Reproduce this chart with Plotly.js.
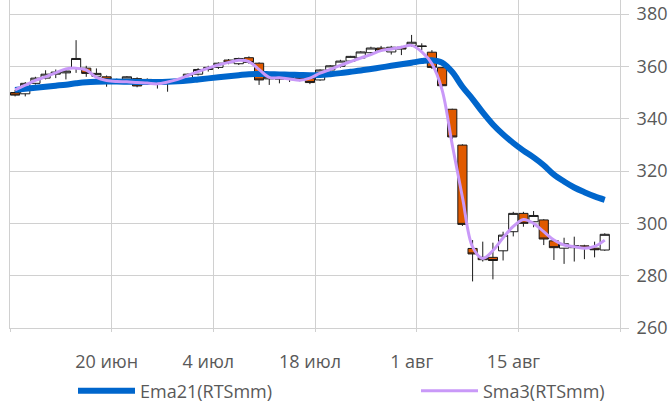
<!DOCTYPE html>
<html>
<head>
<meta charset="utf-8">
<script src="https://cdn.plot.ly/plotly-3.0.1.min.js"></script>
<style>html,body{margin:0;padding:0;background:#fff}#chart{width:671px;height:403px}</style>
</head>
<body>
<div id="chart"></div>
<script>
// Trading-day OHLC (RTSmm)
const openP  = [350,349.5,353.5,355.5,357,357.5,359.2,359.3,356.2,356,354.6,355.1,355.3,354.2,354.2,353.8,354.3,355,357,358.8,359.6,362.4,361,363.3,361.2,355.2,355.5,355.2,355.6,355.4,354.8,358.6,360,362,363.2,365.2,367,365.5,367.3,368,367.8,365.4,359.5,343.6,329.9,290.4,287,287,289.5,296.8,303.8,300.6,301.3,293.3,290.5,290.7,291.4,290.5,289.8];
const highP  = [351,354,356,358.5,358.8,359,370,360.2,359.2,356.5,355.3,356.3,355.8,355.4,354.5,354.8,355,357.2,359.3,360.2,361.5,362.8,363.3,363.8,361.5,357.3,356.3,356,356.3,355.8,358.8,360.5,362.5,364,365.8,367.5,367.8,367.8,367.8,372,368.8,366.2,359.8,343.8,330.2,293.6,293,292.6,296.8,304.4,304.4,304.7,301.6,293.6,294.5,294.9,291.8,293,296.2];
const lowP   = [348.5,348.5,353,355,355.5,355,357.5,356,355,352.2,353.8,354.5,352,353.5,351.5,350.3,353.5,354.5,356.5,358,359,360.8,360.5,361,352.9,352.9,353.5,354,354.3,353.2,354.5,358,359.5,361.5,363,364.8,365.5,364.5,364.3,367.5,366.2,359,352.2,332.2,299,277.8,285.4,278.6,285.8,295,298.7,298.5,291.7,286,284.5,285.4,286.3,287,289.5];
const closeP = [349,353.5,355.5,357,357.8,358.2,363,357.3,357.3,355,354.9,356,352.5,355,353.8,354.3,354.8,357,358.8,359.6,361.2,361.4,363,361.5,354.8,356,355.2,355.6,355.4,353.8,358.6,360.2,362,363.8,365.5,367,366.2,367.3,366.6,369.2,367.6,359.6,352.6,333,299.6,288.3,286.1,285.8,295.5,303.8,300,303,294,290.7,292.2,291.5,290.6,289.9,295.8];
// Indicators
const ema21 = [351,351.4,351.8,352.2,352.6,353,353.5,353.9,354.1,354.2,354.2,354.1,354,354,354,354.1,354.3,354.6,355,355.4,355.8,356.2,356.6,357,357.1,357,356.9,356.8,356.7,356.6,356.7,357,357.4,357.9,358.4,359,359.6,360.2,360.8,361.4,362,362.3,361.4,357.8,352.2,347.5,342.4,337.8,334,330.7,327.8,325.2,322.2,318.6,316,313.7,311.9,310.3,309];
const sma3  = [351,352.8,354.6,356,357.5,359,359.3,358.6,355.8,354.6,354.2,354.1,353.8,353.6,353.3,354,355,356.5,358,359.3,360.5,361.5,362.3,361.8,358.8,355.8,355.6,355.2,354.7,355.5,357.4,358.8,360.4,361.8,363.2,364.5,366,366.6,367.3,368,365.5,361,351,330,310,291,286.6,289.6,294.5,298.8,301.5,300,296.8,293.6,291.7,291.1,290.5,291.2,293.6];
const tickLabels = ['', '20 июн', '4 июл', '18 июл', '1 авг', '15 авг', ''];
const tickPos = [-0.5, 9.5, 19.5, 29.5, 39.5, 49.5, 59.5];

const idx = openP.map((_, i) => i);
const grey = '#595959';
const font = {family: '"Open Sans", "Noto Sans", sans-serif', size: 18, color: grey};

const traces = [
  {type: 'candlestick', x: idx, open: openP, high: highP, low: lowP, close: closeP,
   increasing: {line: {color: '#1a1a1a', width: 1}, fillcolor: '#ffffff'},
   decreasing: {line: {color: '#1a1a1a', width: 1}, fillcolor: '#e05a00'},
   whiskerwidth: 0, showlegend: false, hoverinfo: 'skip'},
  {type: 'scatter', mode: 'lines', x: idx, y: ema21, name: 'Ema21(RTSmm)', legend: 'legend',
   line: {color: '#0066cc', width: 6, shape: 'spline'}, hoverinfo: 'skip'},
  {type: 'scatter', mode: 'lines', x: idx, y: sma3, name: 'Sma3(RTSmm)', legend: 'legend2',
   line: {color: '#c999f8', width: 3, shape: 'spline'}, hoverinfo: 'skip'}
];

const legendBase = {orientation: 'h', xref: 'container', yref: 'container', y: 1 - 391/403,
  xanchor: 'left', yanchor: 'middle', font: font, itemwidth: 57, bgcolor: 'rgba(0,0,0,0)'};

const layout = {
  width: 671, height: 403,
  margin: {l: 10, r: 51, t: 0, b: 75},
  paper_bgcolor: '#ffffff', plot_bgcolor: '#ffffff',
  font: font,
  boxgap: 0.05,
  boxgroupgap: 0.05,
  xaxis: {range: [-0.5, 59.5], tickmode: 'array', tickvals: tickPos, ticktext: tickLabels,
          showgrid: true, gridcolor: '#d0d0d0', gridwidth: 1, zeroline: false,
          showline: true, linecolor: '#d0d0d0', ticks: 'outside', ticklen: 3, tickcolor: '#d0d0d0',
          ticklabelshift: -5, ticklabelstandoff: 14, rangeslider: {visible: false}, fixedrange: true},
  yaxis: {side: 'right', range: [260, 385.35], tickmode: 'array', tickvals: [260,280,300,320,340,360,380],
          showgrid: true, gridcolor: '#d0d0d0', gridwidth: 1, zeroline: false,
          showline: true, mirror: true, linecolor: '#d0d0d0', ticks: 'outside', ticklen: 8, tickcolor: '#d0d0d0',
          ticklabelstandoff: 4, fixedrange: true},
  showlegend: true,
  legend: Object.assign({}, legendBase, {x: 73/671}),
  legend2: Object.assign({}, legendBase, {x: 416/671}),
  hovermode: false
};

Plotly.newPlot('chart', traces, layout, {displayModeBar: false, staticPlot: true});
</script>
</body>
</html>
